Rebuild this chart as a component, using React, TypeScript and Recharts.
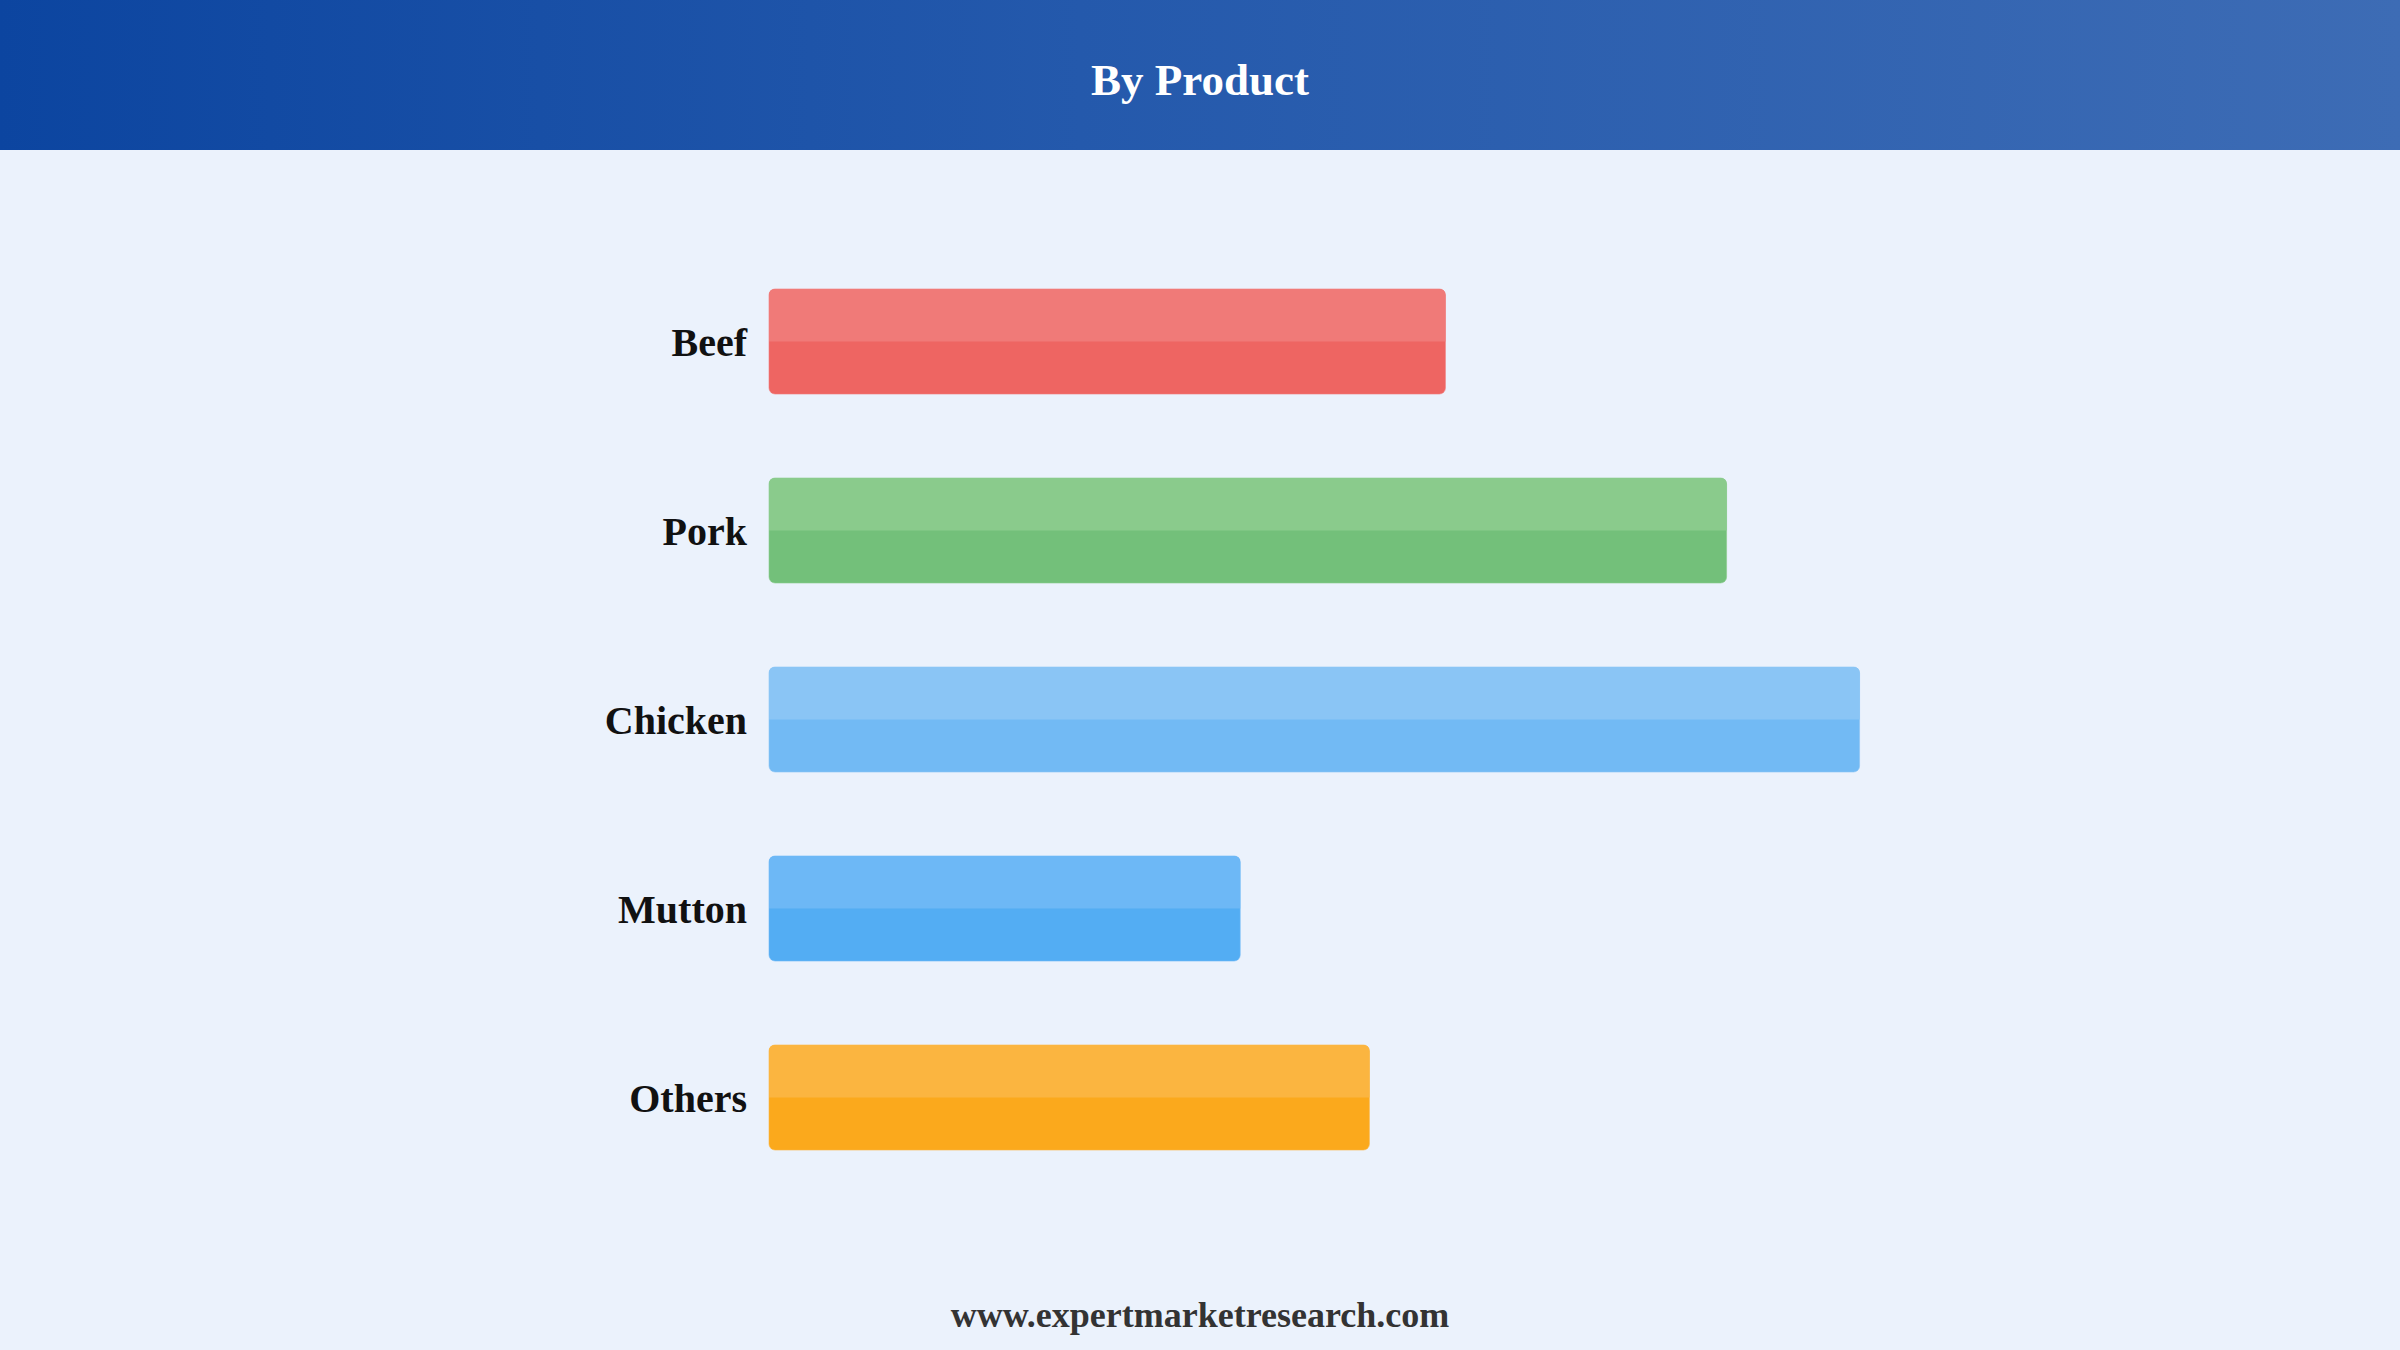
import React from 'react';
import { BarChart, Bar, XAxis, YAxis } from 'recharts';

const categories = ['Beef', 'Pork', 'Chicken', 'Mutton', 'Others'];
const shares = [17.8, 25.2, 28.7, 12.4, 15.8];

const topColors = ['#F07A78', '#8ACB8C', '#8AC5F5', '#6DB8F6', '#FBB540'];
const bottomColors = ['#EE6562', '#73C07A', '#72BAF4', '#53ADF3', '#FBA91C'];

const serif = "'Liberation Serif', 'Times New Roman', serif";

const chartData = categories.map((name, i) => ({ name, value: shares[i] }));

// two-tone bar: darker full rect, lighter top half
function TwoToneBar(props: any) {
    const { x, y, width, height, index } = props;
    if (!width || width <= 0) return null;
    const r = 6;
    const half = height / 2;
    const topPath = `M${x},${y + half} L${x},${y + r} Q${x},${y} ${x + r},${y} L${x + width - r},${y} Q${x + width},${y} ${x + width},${y + r} L${x + width},${y + half} Z`;
    return (
        <g>
            <rect
                x={x}
                y={y}
                width={width}
                height={height}
                rx={r}
                ry={r}
                fill={bottomColors[index]}
                stroke={topColors[index]}
                strokeOpacity={0.6}
                strokeWidth={1}
            />
            <path d={topPath} fill={topColors[index]} />
        </g>
    );
}

export default function App() {
    return (
        <div
            style={{
                position: 'absolute',
                left: 0,
                top: 0,
                width: 2400,
                height: 1350,
                background: '#EBF2FC',
                overflow: 'hidden',
            }}
        >
            <div
                style={{
                    height: 150,
                    width: 2400,
                    background: 'linear-gradient(90deg, #0C45A0 0%, #2459AC 45%, #3D6CB5 100%)',
                    display: 'flex',
                    alignItems: 'center',
                    justifyContent: 'center',
                    color: '#fff',
                    fontFamily: serif,
                    fontWeight: 700,
                    fontSize: 45,
                    paddingTop: 9,
                    boxSizing: 'border-box',
                }}
            >
                By Product
            </div>
            <BarChart
                width={2400}
                height={1200}
                data={chartData}
                layout="vertical"
                margin={{ top: 97, right: 491, bottom: 158, left: 0 }}
                barSize={105}
            >
                <XAxis type="number" domain={[0, 30]} hide />
                <YAxis
                    type="category"
                    dataKey="name"
                    width={769}
                    axisLine={false}
                    tickLine={false}
                    tickSize={0}
                    tickMargin={22}
                    tick={{ fill: '#111', fontSize: 40, fontWeight: 700, fontFamily: serif }}
                />
                <Bar dataKey="value" shape={<TwoToneBar />} isAnimationActive={false} />
            </BarChart>
            <div
                style={{
                    position: 'absolute',
                    left: 0,
                    width: 2400,
                    top: 1294,
                    textAlign: 'center',
                    fontFamily: serif,
                    fontWeight: 700,
                    fontSize: 36,
                    color: '#333',
                }}
            >
                www.expertmarketresearch.com
            </div>
        </div>
    );
}
